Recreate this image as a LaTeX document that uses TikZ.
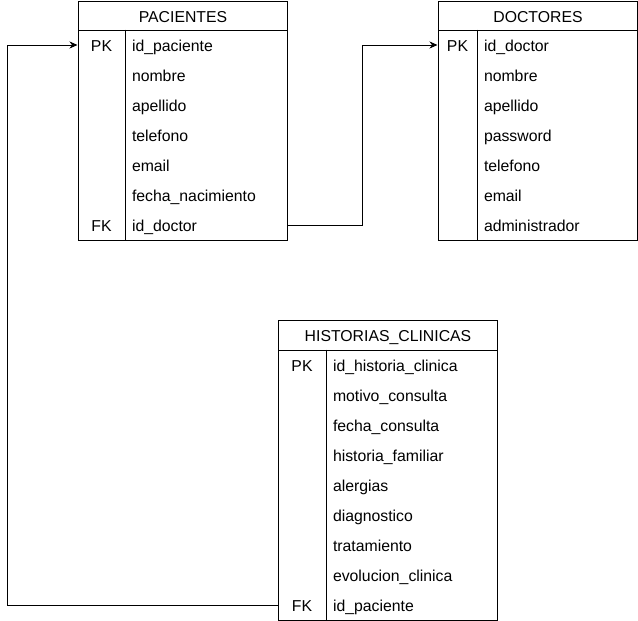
\documentclass[tikz,border=0pt]{standalone}
\usepackage{fontspec}
\setmainfont{Liberation Sans}
\usepackage{tikz}
\usetikzlibrary{positioning,arrows.meta}

\begin{document}
\begin{tikzpicture}[x=1pt, y=-1pt, node distance=30pt, line width=1pt, font=\fontsize{15.8}{18}\selectfont]
    \tikzstyle{tablebox} = [rectangle, draw, inner sep=0pt, anchor=north west]
    \tikzstyle{tablehead} = [rectangle, draw, inner sep=0pt, minimum height=29pt, anchor=north west, text height=13.5pt, text depth=1.5pt]
    \tikzstyle{keycell} = [rectangle, inner sep=0pt, minimum height=30pt, text centered, text height=13.5pt, text depth=1.5pt]
    \tikzstyle{fieldcell} = [rectangle, inner xsep=7pt, inner ysep=0pt, minimum height=30pt, align=left, text height=13.5pt, text depth=1.5pt]
    \tikzstyle{relation} = [-{Stealth[length=8pt, width=7pt, inset=2.5pt]}, line width=1pt]

    \useasboundingbox (0,0) rectangle (638,621);

    % PACIENTES
    \node [tablebox, minimum width=209pt, minimum height=239pt] (pac) at (78,1) {};
    \node [tablehead, minimum width=209pt] (pachead) at (78,1) {PACIENTES};
    \node [keycell, minimum width=47pt] (pacpk) at (101.5,45) {PK};
    \node [fieldcell, text width=148pt] (pacf1) at (206,45) {id\_paciente};
    \node [fieldcell, text width=148pt, below of=pacf1] (pacf2) {nombre};
    \node [fieldcell, text width=148pt, below of=pacf2] (pacf3) {apellido};
    \node [fieldcell, text width=148pt, below of=pacf3] (pacf4) {telefono};
    \node [fieldcell, text width=148pt, below of=pacf4] (pacf5) {email};
    \node [fieldcell, text width=148pt, below of=pacf5] (pacf6) {fecha\_nacimiento};
    \node [fieldcell, text width=148pt, below of=pacf6] (pacf7) {id\_doctor};
    \node [keycell, minimum width=47pt] (pacfk) at (pacf7 -| pacpk) {FK};
    \draw (pacpk.north east) -- (pacpk.north east |- pac.south);

    % DOCTORES
    \node [tablebox, minimum width=199pt, minimum height=239pt] (doc) at (438,1) {};
    \node [tablehead, minimum width=199pt] (dochead) at (438,1) {DOCTORES};
    \node [keycell, minimum width=39pt] (docpk) at (457.5,45) {PK};
    \node [fieldcell, text width=146pt] (docf1) at (557,45) {id\_doctor};
    \node [fieldcell, text width=146pt, below of=docf1] (docf2) {nombre};
    \node [fieldcell, text width=146pt, below of=docf2] (docf3) {apellido};
    \node [fieldcell, text width=146pt, below of=docf3] (docf4) {password};
    \node [fieldcell, text width=146pt, below of=docf4] (docf5) {telefono};
    \node [fieldcell, text width=146pt, below of=docf5] (docf6) {email};
    \node [fieldcell, text width=146pt, below of=docf6] (docf7) {administrador};
    \draw (docpk.north east) -- (docpk.north east |- doc.south);

    % HISTORIAS_CLINICAS
    \node [tablebox, minimum width=219pt, minimum height=300pt] (his) at (278,320) {};
    \node [tablehead, minimum width=219pt, minimum height=30pt] (hishead) at (278,320) {HISTORIAS\_CLINICAS};
    \node [keycell, minimum width=48pt] (hispk) at (302,365) {PK};
    \node [fieldcell, text width=157pt] (hisf1) at (411.5,365) {id\_historia\_clinica};
    \node [fieldcell, text width=157pt, below of=hisf1] (hisf2) {motivo\_consulta};
    \node [fieldcell, text width=157pt, below of=hisf2] (hisf3) {fecha\_consulta};
    \node [fieldcell, text width=157pt, below of=hisf3] (hisf4) {historia\_familiar};
    \node [fieldcell, text width=157pt, below of=hisf4] (hisf5) {alergias};
    \node [fieldcell, text width=157pt, below of=hisf5] (hisf6) {diagnostico};
    \node [fieldcell, text width=157pt, below of=hisf6] (hisf7) {tratamiento};
    \node [fieldcell, text width=157pt, below of=hisf7] (hisf8) {evolucion\_clinica};
    \node [fieldcell, text width=157pt, below of=hisf8] (hisf9) {id\_paciente};
    \node [keycell, minimum width=48pt] (hisfk) at (hisf9 -| hispk) {FK};
    \draw (hispk.north east) -- (hispk.north east |- his.south);

    % relaciones
    \draw [relation] (pacf7.east) -- ++(75,0) |- (docpk.west);
    \draw [relation] (hisfk.west) -- ++(-270,0) |- (pacpk.west);
\end{tikzpicture}
\end{document}
